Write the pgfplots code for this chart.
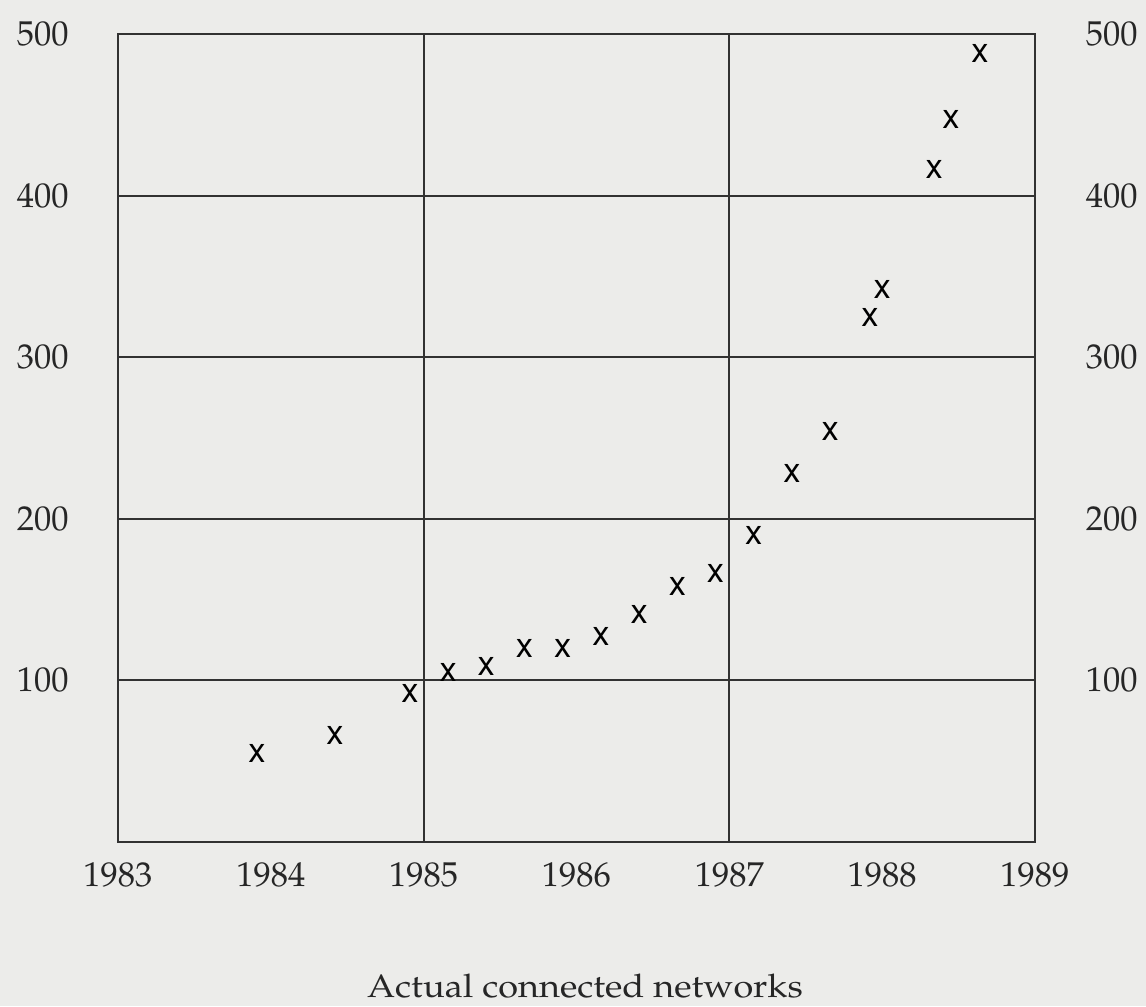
\documentclass[border=0pt]{standalone}
\usepackage[T1]{fontenc}
\usepackage{mathpazo}
\usepackage[scaled=0.95]{helvet}
\usepackage{pgfplots}
\pgfplotsset{compat=1.18}
\definecolor{bg}{RGB}{236,236,234}
\definecolor{ink}{RGB}{50,50,50}
\begin{document}
\begin{tikzpicture}
\fill[bg] (-47.2pt,-65.6pt) rectangle (411.2pt,336.8pt);
\begin{axis}[
  at={(0,0)}, anchor=south west,
  scale only axis, width=366.8pt, height=323.2pt,
  xmin=1983, xmax=1989, ymin=0, ymax=500,
  xtick={1983,1984,1985,1986,1987,1988,1989},
  ytick={100,200,300,400,500},
  extra x ticks={1985,1987}, extra x tick labels={},
  extra x tick style={grid=major, major tick length=0pt},
  ymajorgrids,
  major tick length=0pt,
  grid style={ink, line width=0.8pt},
  axis line style={ink, line width=0.8pt},
  /pgf/number format/.cd, 1000 sep={}, assume math mode=true,
  /pgfplots/.cd,
  tick label style={font=\fontsize{13.8}{16}\selectfont, text=black!85},
  xticklabel style={yshift=-4.6pt},
  yticklabel style={xshift=-16.2pt},
  xlabel={Actual connected networks},
  xlabel style={at={(axis description cs:0.5,0)}, anchor=base, inner sep=0pt, yshift=-62pt, xshift=3.4pt, xscale=1.11, font=\fontsize{13}{15}\selectfont, text=black!85},
]
\addplot[only marks, mark=text, color=black!85,
  text mark={\fontsize{14.5}{14.5}\selectfont\sffamily x}]
  coordinates {
  (1983.91,55) (1984.42,66) (1984.91,92) (1985.16,105) (1985.41,109)
  (1985.66,120) (1985.91,120) (1986.16,127) (1986.41,141) (1986.66,158)
  (1986.91,166) (1987.16,190) (1987.41,228) (1987.66,254) (1987.92,325)
  (1988.00,342) (1988.34,416) (1988.45,447) (1988.64,488)
  };
\end{axis}
\begin{axis}[
  at={(0,0)}, anchor=south west,
  scale only axis, width=366.8pt, height=323.2pt,
  xmin=1983, xmax=1989, ymin=0, ymax=500,
  hide x axis,
  axis y line*=right,
  axis line style={draw=none},
  ytick={100,200,300,400,500},
  major tick length=0pt,
  /pgf/number format/.cd, assume math mode=true,
  /pgfplots/.cd,
  yticklabel style={font=\fontsize{13.8}{16}\selectfont, text=black!85, xshift=16.8pt},
]
\addplot[draw=none] coordinates {(1983,0)};
\end{axis}
\pgfresetboundingbox
\path[use as bounding box] (-47.2pt,-65.6pt) rectangle (411.2pt,336.8pt);
\end{tikzpicture}
\end{document}
